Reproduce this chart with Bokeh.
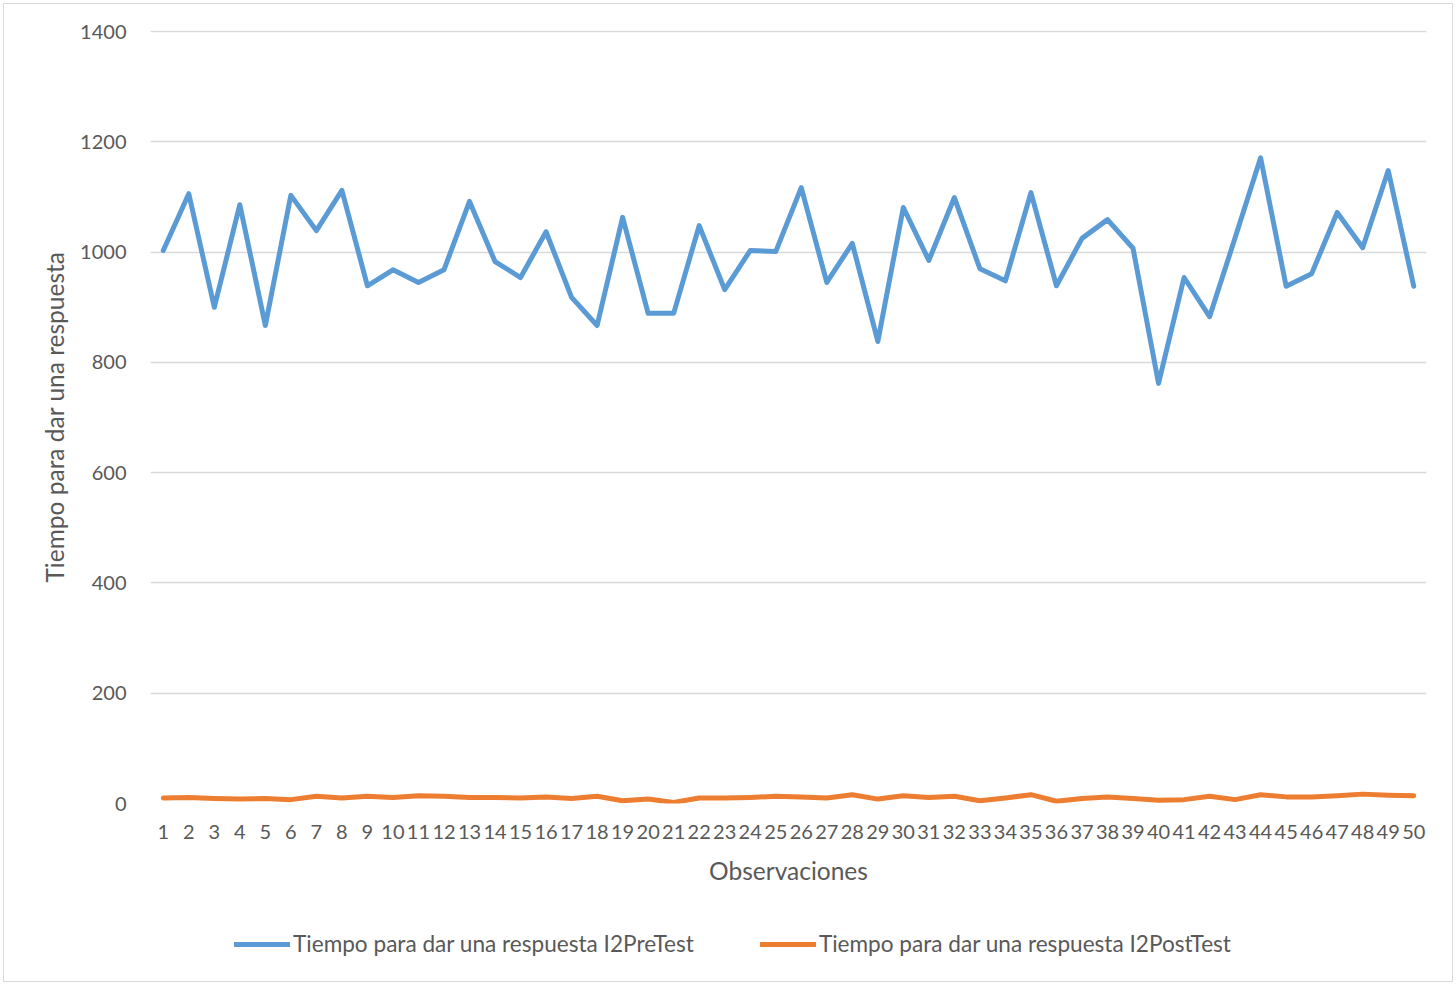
from bokeh.plotting import figure
from bokeh.layouts import column
from bokeh.models import FixedTicker, Range1d, Legend, LegendItem
from bokeh.embed import file_html
from bokeh.resources import INLINE

# Observation index and response times
observaciones = list(range(1, 51))
pre_test = [1003, 1106, 900, 1086, 867, 1103, 1039, 1112, 939, 968,
            945, 968, 1092, 983, 954, 1037, 918, 867, 1063, 889,
            889, 1048, 932, 1003, 1001, 1117, 945, 1016, 838, 1081,
            985, 1099, 970, 948, 1108, 939, 1025, 1059, 1007, 762,
            954, 883, 1026, 1171, 938, 961, 1072, 1008, 1148, 938]
post_test = [10, 11, 9, 8, 9, 7, 13, 10, 13, 11,
             14, 13, 11, 11, 10, 12, 9, 13, 5, 8,
             2, 10, 10, 11, 13, 12, 10, 16, 8, 14,
             11, 13, 5, 10, 16, 4, 9, 12, 9, 6,
             7, 13, 7, 16, 12, 12, 14, 17, 15, 14]
y_ticks = [0, 200, 400, 600, 800, 1000, 1200, 1400]
series_names = ["Tiempo para dar una respuesta I2PreTest",
                "Tiempo para dar una respuesta I2PostTest"]
series_values = [pre_test, post_test]
series_colors = ["#5B9BD5", "#ED7D31"]

FONT = "Lato"
TEXT = "#595959"
GRID = "#d9d9d9"
W = 1448

p = figure(width=W, height=896, output_backend="svg", toolbar_location=None,
           x_range=Range1d(0.5, 50.5), y_range=Range1d(0, 1402),
           min_border_left=146, min_border_right=26,
           min_border_top=26, min_border_bottom=97)
p.outline_line_color = None

# axes
p.xaxis.ticker = FixedTicker(ticks=observaciones)
p.yaxis.ticker = FixedTicker(ticks=y_ticks)
for ax in (p.xaxis[0], p.yaxis[0]):
    ax.axis_line_color = None
    ax.major_tick_line_color = None
    ax.minor_tick_line_color = None
    ax.major_tick_out = 0
    ax.major_tick_in = 0
    ax.major_label_text_font = FONT
    ax.major_label_text_font_size = "20px"
    ax.major_label_text_color = TEXT
    ax.axis_label_text_font = FONT
    ax.axis_label_text_font_size = "24.5px"
    ax.axis_label_text_font_style = "normal"
    ax.axis_label_text_color = TEXT
p.yaxis.major_label_standoff = 24
p.yaxis.axis_label = "Tiempo para dar una respuesta"
p.yaxis.axis_label_standoff = 8
p.xaxis.major_label_standoff = 21
p.xaxis.axis_label = "Observaciones"
p.xaxis.axis_label_standoff = 14

p.xgrid.grid_line_color = None
p.ygrid.grid_line_color = GRID
p.ygrid.grid_line_width = 1.3

for vals, c in zip(series_values, series_colors):
    p.line(observaciones, vals, line_color=c, line_width=5,
           line_join="round", line_cap="round")

# legend strip under the chart (its frame lines up with the chart's frame);
# the series are drawn outside its visible range, only the legend shows
leg = figure(width=W, height=81, output_backend="svg", toolbar_location=None,
             x_range=Range1d(1000, 1001), y_range=Range1d(0, 1),
             min_border=0, x_axis_type=None, y_axis_type=None)
leg.outline_line_color = None
leg.grid.visible = False
items = []
for name, vals, c in zip(series_names, series_values, series_colors):
    r = leg.line(observaciones, vals, line_color=c, line_width=5, line_cap="round")
    items.append(LegendItem(label=name, renderers=[r]))
legend = Legend(items=items, orientation="horizontal", location=(84, 24))
legend.label_text_font = FONT
legend.label_text_font_size = "22.6px"
legend.label_text_color = TEXT
legend.glyph_width = 56
legend.glyph_height = 22
legend.label_standoff = 3
legend.spacing = 66
legend.padding = 6
legend.border_line_color = None
legend.background_fill_alpha = 0
leg.add_layout(legend, "center")

page = column(p, leg, spacing=0, margin=(3, 0, 0, 3),
              styles={"border": "1px solid #d9d9d9"})

open("out.html", "w").write(file_html(page, INLINE))
